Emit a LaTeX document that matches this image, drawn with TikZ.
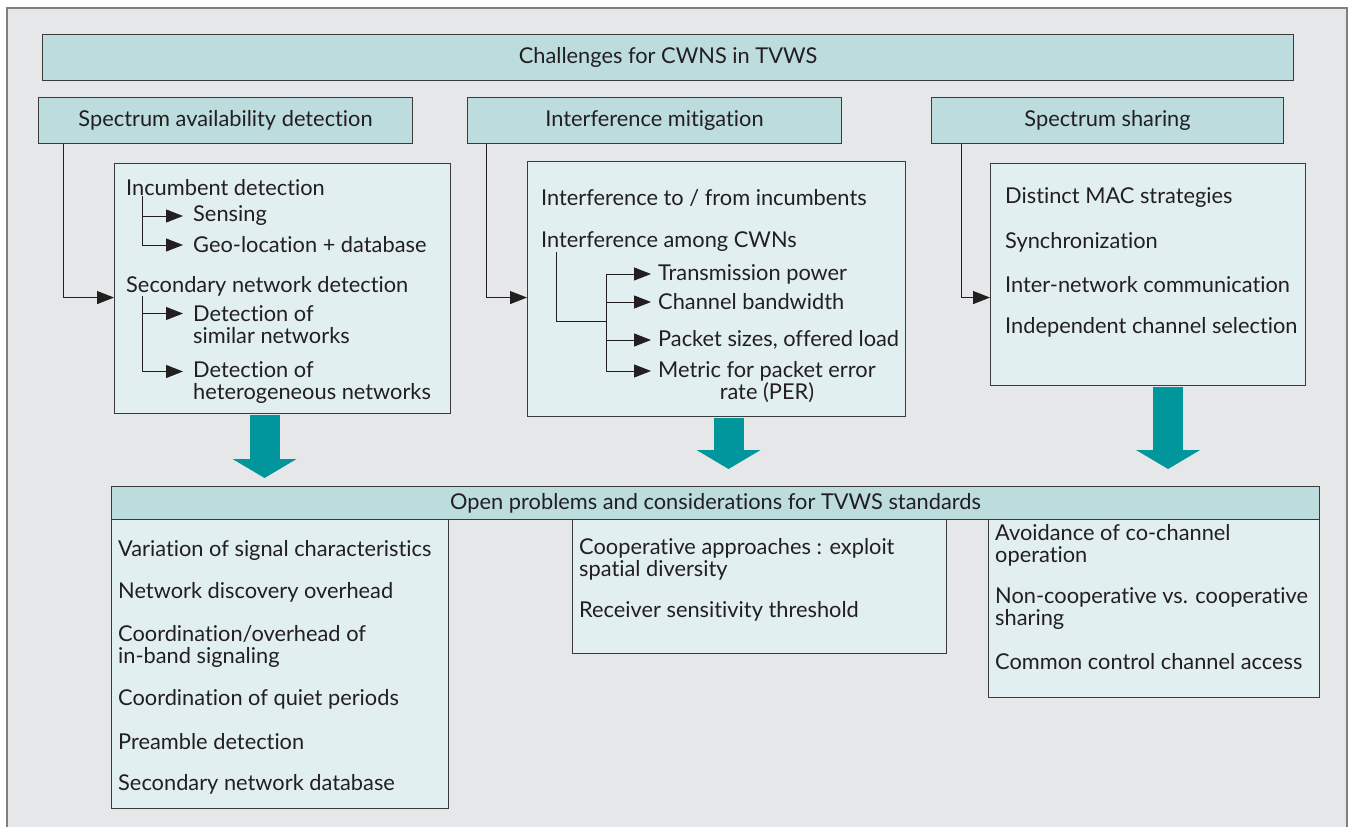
\documentclass[tikz,border=0pt]{standalone}
\usepackage{fontspec}
\setmainfont{Lato}[Ligatures=NoCommon]
\usetikzlibrary{arrows.meta}

\definecolor{headfill}{HTML}{BCDCDE}
\definecolor{panelfill}{HTML}{E1EFF0}
\definecolor{bgfill}{HTML}{E6E7E8}
\definecolor{feedteal}{HTML}{00969B}
\definecolor{edge}{HTML}{3A3A3A}
\definecolor{ink}{HTML}{231F20}
\definecolor{framec}{HTML}{808080}

\begin{document}
\begin{tikzpicture}[x=1pt,y=-1pt,
    every node/.style={font=\fontsize{21.8}{22}\selectfont, text=ink},
    head/.style={draw=edge, fill=headfill, line width=1.1pt, inner sep=0pt, anchor=north west},
    panel/.style={draw=edge, fill=panelfill, line width=1.1pt, inner sep=0pt, anchor=north west},
    entry/.style={anchor=west, inner sep=0pt, align=left},
    link/.style={line width=1pt, draw=ink, -{Triangle[length=17pt,width=13pt]}},
    feed/.style={line width=30pt, draw=feedteal, -{Triangle[length=19pt,width=64pt,line width=0pt]}}]
        \useasboundingbox (0,0) rectangle (1350,827);
        % Frame
        \fill[bgfill] (7,8) rectangle (1347,827);
        \draw[framec, line width=2pt] (7,827) -- (7,8) -- (1347,8) -- (1347,827);
        % Challenges
        \node[head, minimum width=1251, minimum height=46] (title) at (42,34) {Challenges for CWNS in TVWS};
        \node[head, minimum width=374, minimum height=46] (sad) at (38,97) {Spectrum availability detection};
        \node[head, minimum width=374, minimum height=46] (im) at (467,97) {Interference mitigation};
        \node[head, minimum width=352, minimum height=46] (ss) at (931,97) {Spectrum sharing};
        % Block arrows down to the open problems
        \node[panel, minimum width=336, minimum height=250] (det) at (114,163) {};
        \node[panel, minimum width=378, minimum height=255] (mit) at (527,161) {};
        \node[panel, minimum width=315, minimum height=222] (shr) at (990,163) {};
        \node[panel, minimum width=337, minimum height=289] (p1) at (111,519) {};
        \node[panel, minimum width=374, minimum height=134] (p2) at (572,519) {};
        \node[panel, minimum width=331, minimum height=178] (p3) at (988,519) {};
        \node[head, minimum width=1208, minimum height=33] (open) at (111,486) {Open problems and considerations for TVWS standards};
        \draw[feed, shorten >=8pt] ([xshift=-18pt,yshift=-0.6pt]det.south) -- ([xshift=-18pt]det.south |- open.north);
        \draw[feed, shorten >=17pt] ([xshift=12pt,yshift=-0.6pt]mit.south) -- ([xshift=12pt]mit.south |- open.north);
        \draw[feed, shorten >=17pt] ([xshift=20pt,yshift=-0.6pt]shr.south) -- ([xshift=20pt]shr.south |- open.north);
        % Header to panel
        \draw[link] ([xshift=25pt]sad.south west) |- ([yshift=-9pt]det.west);
        \draw[link] ([xshift=19pt]im.south west) |- ([yshift=-8.5pt]mit.west);
        \draw[link] ([xshift=30pt]ss.south west) |- ([yshift=-23pt]shr.west);
        % Spectrum availability detection
        \node[entry] (inc) at (126,188) {Incumbent detection};
        \node[entry] (sens) at (193,216) {Sensing};
        \node[entry] (geo) at (193,245) {Geo-location + database};
        \node[entry] (sec) at (126,286) {Secondary network detection};
        \node[entry] (sim) at (193,324.5) {Detection of\\similar networks};
        \node[entry] (het) at (193,382.5) {Detection of\\heterogeneous networks};
        \foreach \n in {sens,geo}
            \draw[link] ([xshift=16pt]inc.south west) |- ([xshift=-10pt]\n.west);
        \foreach \n in {sim,het}
            \draw[link] ([xshift=16pt]sec.south west) |- ([xshift=-10pt,yshift=11pt]\n.west);
        % Interference mitigation
        \node[entry] (inc2) at (541,198) {Interference to / from incumbents};
        \node[entry] (among) at (541,242) {Interference among CWNs};
        \node[entry] (tx) at (658,274) {Transmission power};
        \node[entry] (bw) at (658,302) {Channel bandwidth};
        \node[entry] (pkt) at (658,340) {Packet sizes, offered load};
        \node[entry, align=center] (per) at (658,382) {Metric for packet error\\rate (PER)};
        \coordinate (hub) at (606,321);
        \draw[line width=1pt, ink] ([xshift=15pt]among.south west) |- (hub);
        \foreach \n in {tx,bw,pkt}
            \draw[link] (hub) |- ([xshift=-7pt]\n.west);
        \draw[link] (hub) |- ([xshift=-7pt,yshift=11pt]per.west);
        % Spectrum sharing
        \foreach \t/\y [count=\i] in {Distinct MAC strategies/198, Synchronization/242,
                Inter-network communication/285, Independent channel selection/327}
            \node[entry] (shr\i) at (1005,\y) {\t};
        % Open problems
        \foreach \t/\y [count=\i] in {Variation of signal characteristics/550, Network discovery overhead/592,
                {Coordination/overhead of\\in-band signaling}/646, Coordination of quiet periods/699,
                Preamble detection/742, Secondary network database/784}
            \node[entry] (opa\i) at (118,\y) {\t};
        \foreach \t/\y [count=\i] in {{Cooperative approaches : exploit\\spatial diversity}/559,
                Receiver sensitivity threshold/611}
            \node[entry] (opb\i) at (579,\y) {\t};
        \foreach \t/\y [count=\i] in {{Avoidance of co-channel\\operation}/545,
                {Non-cooperative vs. cooperative\\sharing}/609, Common control channel access/662}
            \node[entry] (opc\i) at (995,\y) {\t};
\end{tikzpicture}
\end{document}
